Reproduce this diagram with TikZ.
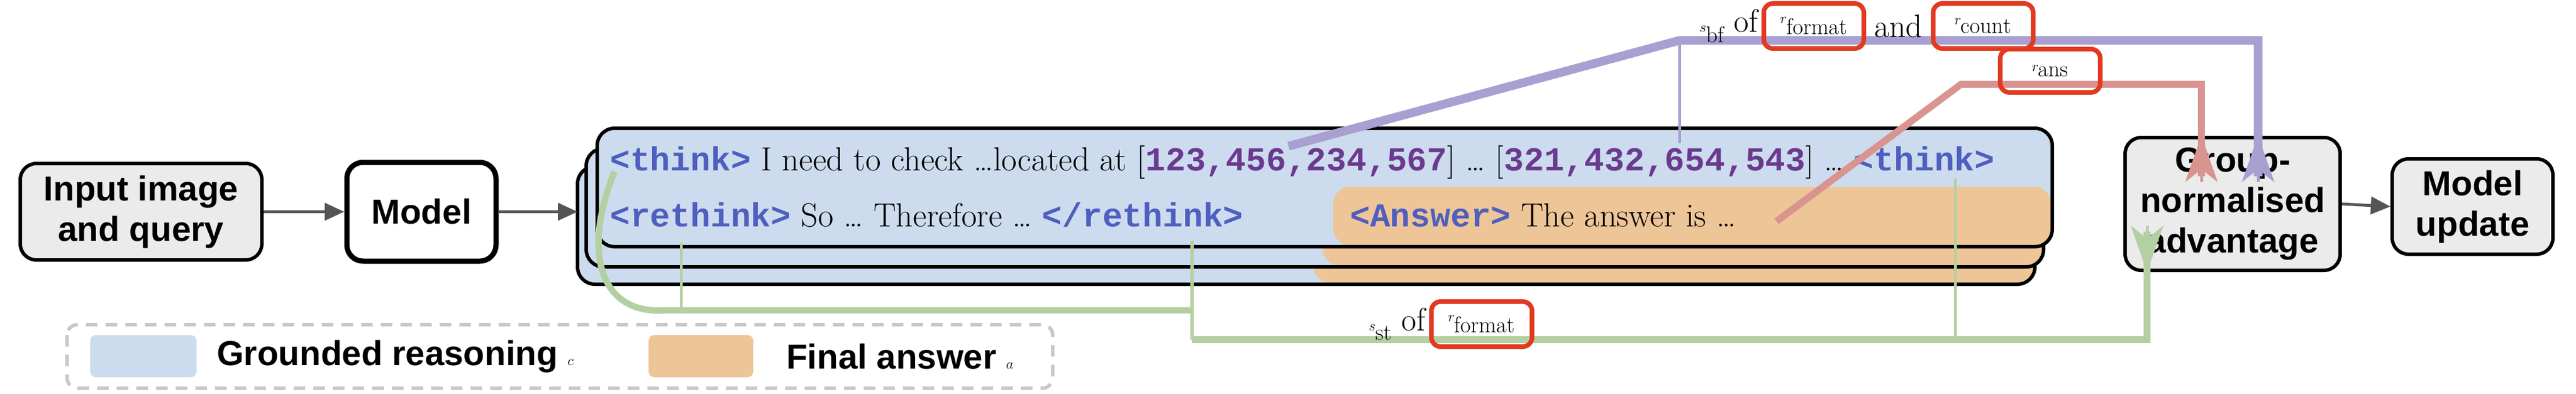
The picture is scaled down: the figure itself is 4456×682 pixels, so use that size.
\documentclass[tikz,border=0pt]{standalone}
\usepackage{fontspec}
\setsansfont{Liberation Sans}
\newfontfamily\tagfont{Liberation Mono}
\usetikzlibrary{arrows.meta,calc}
\definecolor{cblue}{HTML}{CCDCEE}
\definecolor{corange}{HTML}{EDC597}
\definecolor{cpurple}{HTML}{A99FD0}
\definecolor{cred}{HTML}{D99490}
\definecolor{cgreen}{HTML}{B4D0A3}
\definecolor{cbox}{HTML}{E23A20}
\definecolor{ctag}{HTML}{4F5FBF}
\definecolor{cnum}{HTML}{6B3A8F}
\definecolor{cgray}{HTML}{555555}
\definecolor{cfill}{HTML}{EBEBEB}
\definecolor{cleg}{HTML}{C8C8C8}
\newcommand{\tg}[1]{{\tagfont\bfseries\color{ctag}#1}}
\newcommand{\nm}[1]{{\tagfont\bfseries\color{cnum}#1}}
\begin{document}
\begin{tikzpicture}[x=1pt,y=-1pt,
  procbox/.style={draw=black,line width=6pt,rounded corners=28pt,fill=cfill,align=center,
     font=\sffamily\bfseries\fontsize{60}{70}\selectfont,inner sep=0pt},
  grayarrow/.style={draw=cgray,line width=5pt,-{Triangle[length=34pt,width=30pt]}},
  bigtip/.style={-{Stealth[length=80pt,width=56pt,inset=22pt]}},
  rtext/.style={font=\fontsize{58}{60}\selectfont,inner sep=0pt,anchor=base west},
  redbox/.style={draw=cbox,line width=8pt,rounded corners=16pt,inner sep=0pt},
  layer/.style={draw=black,line width=6pt,rounded corners=30pt}]
\useasboundingbox (0,0) rectangle (4456,682);
% boxes
\node[procbox,minimum width=418pt,minimum height=167pt] (inp) at (244,366.5) {Input image\\and query};
\node[procbox,fill=white,line width=9pt,minimum width=258pt,minimum height=171pt] (mod) at (729,366.5) {Model};
\node[procbox,minimum width=372pt,minimum height=230pt] (gna) at (3862,353) {Group-\\normalised\\advantage};
\node[procbox,minimum width=278pt,minimum height=165pt] (upd) at (4277,357.5) {Model\\update};
% stack layers
\foreach \l/\t/\r/\b/\ol in {999/288/3520/492/2272, 1014/257/3535/462/2288, 1033/222/3550/427/2306}{
  \fill[cblue,rounded corners=30pt] (\l,\t) rectangle (\r,\b);
  \fill[corange,rounded corners=30pt] (\ol,{\b-104}) rectangle ({\r-2},{\b-2});
  \draw[layer] (\l,\t) rectangle (\r,\b);
}
\coordinate (stk) at (999,366.5);
\draw[grayarrow] (inp.east) -- (mod.west);
\draw[grayarrow] (mod.east) -- (stk);
\draw[grayarrow] (gna.east) -- (upd.west);
% texts
\node[rtext] (row1) at (1055,295) {\tg{<think>} I need to check \dots located at [\nm{123,456,234,567}] \dots\ [\nm{321,432,654,543}] \dots\ \tg{<think>}};
\node[rtext] (row2) at (1055,392) {\tg{<rethink>} So \dots\ Therefore \dots\ \tg{</rethink>}};
\node[rtext] (ans) at (2335,392) {\tg{<Answer>} The answer is \dots};
% coordinates
\coordinate (pA) at (2229,253);
\coordinate (pB) at (2905,70);
\coordinate (pB2) at (2905,248);
\coordinate (pC) at (3906,70);
\coordinate (qA) at (3073,383);
\coordinate (qB) at (3392,146);
\coordinate (qC) at (3808,146);
\coordinate (g0) at (1063,297);
\coordinate (g1) at (1150,537);
\coordinate (g2) at (2062,537);
\coordinate (g3) at (2062,588);
\coordinate (g4) at (3714,588);
\coordinate (gv1) at (1178,420);
\coordinate (gv1b) at (1178,537);
\coordinate (gv2) at (2062,417);
\coordinate (gv3) at (3382,308);
\coordinate (gv3b) at (3382,588);
% purple
\draw[cpurple,line width=5pt] (pB) -- (pB2);
\draw[cpurple,line width=15pt,line join=miter] (pA) -- (pB) -- (pC) -- ([yshift=-70pt]gna.north -| pC);
\draw[cpurple,line width=5pt,bigtip,fill=cpurple] ([yshift=-80pt]gna.north -| pC) -- (gna.north -| pC);
% red
\draw[cred,line width=12pt] (qA) -- (qB) -- (qC) -- ([yshift=-70pt]gna.north -| qC);
\draw[cred,line width=5pt,bigtip] ([yshift=-80pt]gna.north -| qC) -- (gna.north -| qC);
% green
\draw[cgreen,line width=5pt] (gv1) -- (gv1b);
\draw[cgreen,line width=6pt] (gv2) -- (g3);
\draw[cgreen,line width=5pt] (gv3) -- (gv3b);
\draw[cgreen,line width=11pt] (g0) .. controls (1005,440) and (1040,545) .. (g1) -- (g2);
\draw[cgreen,line width=12pt] (g3) -- (g4) -- ([yshift=70pt]gna.south -| g4);
\draw[cgreen,line width=5pt,bigtip] ([yshift=80pt]gna.south -| g4) -- (gna.south -| g4);
% labels
\node[redbox,minimum width=173pt,minimum height=78pt] (rf1) at (3137.5,45) {\fontsize{56}{60}\selectfont$r_{\mathrm{format}}$};
\node[redbox,minimum width=173pt,minimum height=78pt] (rc) at (3430.5,45) {\fontsize{56}{60}\selectfont$r_{\mathrm{count}}$};
\node[redbox,minimum width=173pt,minimum height=75pt] (ra) at (3546.5,122.5) {\fontsize{56}{60}\selectfont$r_{\mathrm{ans}}$};
\node[redbox,minimum width=174pt,minimum height=78pt] (rf2) at (2563,561) {\fontsize{56}{60}\selectfont$r_{\mathrm{format}}$};
\node[inner sep=0pt,anchor=east,font=\fontsize{56}{60}\selectfont] (sbf) at ([xshift=-6pt]rf1.west) {$s_{\mathrm{bf}}$ of};
\node[inner sep=0pt,font=\fontsize{56}{60}\selectfont] (andl) at ($(rf1.east)!0.5!(rc.west)$) {and};
\node[inner sep=0pt,anchor=east,font=\fontsize{56}{60}\selectfont] (sst) at ([xshift=-6pt]rf2.west) {$s_{\mathrm{st}}$ of};
% legend
\draw[cleg,line width=6pt,dash pattern=on 20pt off 14pt,rounded corners=18pt] (116,562) rectangle (1821,672);
\fill[cblue,rounded corners=10pt] (156,580) rectangle (340,653);
\fill[corange,rounded corners=10pt] (1122,580) rectangle (1303,653);
\node[inner sep=0pt,anchor=west,font=\sffamily\bfseries\fontsize{60}{66}\selectfont] (lg1) at (375,617) {Grounded reasoning $c$};
\node[inner sep=0pt,anchor=west,font=\sffamily\bfseries\fontsize{60}{66}\selectfont] (lg2) at (1360,617) {Final answer $a$};
\end{tikzpicture}
\end{document}
